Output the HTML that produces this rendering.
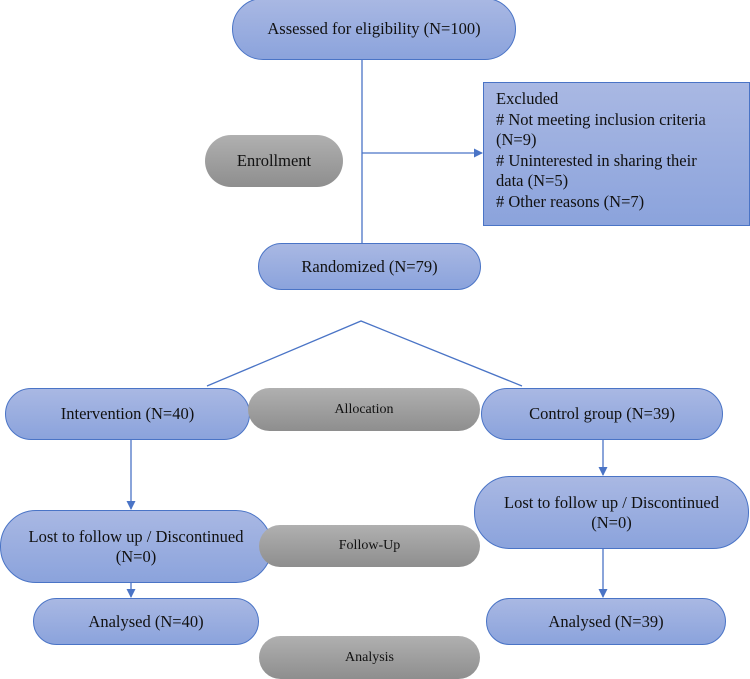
<!DOCTYPE html>
<html><head><meta charset="utf-8"><style>
body{margin:0;width:750px;height:679px;background:#fff;position:relative;overflow:hidden;font-family:"Liberation Serif",serif;color:#111}
.b{position:absolute;box-sizing:border-box;border:1.5px solid #4a74c6;background:linear-gradient(#a9b8e3,#8ba3dc);display:flex;align-items:center;justify-content:center;text-align:center;font-size:16.5px;line-height:20px}
.g{position:absolute;box-sizing:border-box;background:linear-gradient(#b0b0b0,#8e8e8e);display:flex;align-items:center;justify-content:center;font-size:14px;border-radius:22px}
svg{position:absolute;left:0;top:0}
</style></head><body>
<svg width="750" height="679">
<defs><marker id="a" markerWidth="9" markerHeight="9" refX="8" refY="4.5" orient="auto" markerUnits="userSpaceOnUse"><path d="M0,0L9,4.5L0,9z" fill="#4a74c6"/></marker></defs>
<g stroke="#4a74c6" stroke-width="1.3" fill="none">
<line x1="362" y1="60" x2="362" y2="243"/>
<line x1="362" y1="153" x2="482" y2="153" marker-end="url(#a)"/>
<polyline points="207,386 361,321 522,386"/>
<line x1="131" y1="440" x2="131" y2="509" marker-end="url(#a)"/>
<line x1="131" y1="583" x2="131" y2="597" marker-end="url(#a)"/>
<line x1="603" y1="440" x2="603" y2="475" marker-end="url(#a)"/>
<line x1="603" y1="549" x2="603" y2="597" marker-end="url(#a)"/>
</g></svg>
<div class="b" style="left:232px;top:-2px;width:284px;height:62px;border-radius:31px">Assessed for eligibility (N=100)</div>
<div class="g" style="left:205px;top:135px;width:138px;height:52px;border-radius:26px;font-size:16.5px">Enrollment</div>
<div class="b" style="left:483px;top:82px;width:267px;height:144px;border-radius:0;justify-content:flex-start;align-items:flex-start;text-align:left;padding:6px 12px 0 12px;line-height:20.5px">Excluded<br># Not meeting inclusion criteria<br>(N=9)<br># Uninterested in sharing their<br>data (N=5)<br># Other reasons (N=7)</div>
<div class="b" style="left:258px;top:243px;width:223px;height:47px;border-radius:24px">Randomized (N=79)</div>
<div class="b" style="left:5px;top:388px;width:245px;height:52px;border-radius:26px">Intervention (N=40)</div>
<div class="g" style="left:248px;top:388px;width:232px;height:43px">Allocation</div>
<div class="b" style="left:481px;top:388px;width:242px;height:52px;border-radius:26px">Control group (N=39)</div>
<div class="b" style="left:0;top:510px;width:272px;height:73px;border-radius:36px">Lost to follow up / Discontinued<br>(N=0)</div>
<div class="g" style="left:259px;top:525px;width:221px;height:42px">Follow-Up</div>
<div class="b" style="left:474px;top:476px;width:275px;height:73px;border-radius:36px">Lost to follow up / Discontinued<br>(N=0)</div>
<div class="b" style="left:33px;top:598px;width:226px;height:47px;border-radius:24px">Analysed (N=40)</div>
<div class="b" style="left:486px;top:598px;width:240px;height:47px;border-radius:24px">Analysed (N=39)</div>
<div class="g" style="left:259px;top:636px;width:221px;height:43px">Analysis</div>
</body></html>
